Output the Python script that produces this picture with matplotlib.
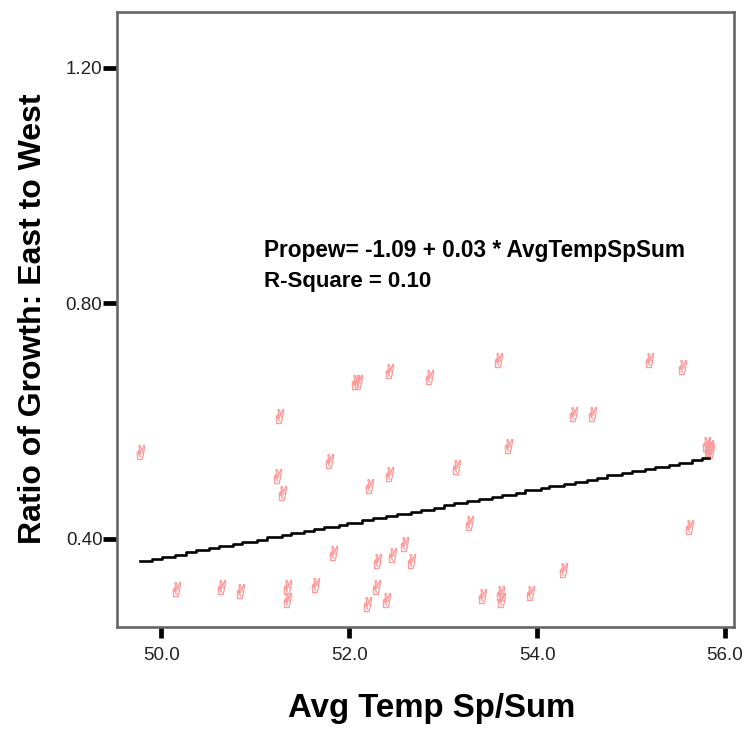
import matplotlib
matplotlib.use('Agg')
import matplotlib.pyplot as plt
from matplotlib.path import Path
from matplotlib.textpath import TextPath
from matplotlib.font_manager import FontProperties

# points
temp_sp_sum = [49.77, 50.16, 50.64, 50.84, 51.34, 51.34, 51.64, 51.25, 51.23, 51.28,
               51.78, 51.83, 52.21, 52.42, 52.42, 52.06, 52.09, 52.85, 52.30, 52.46,
               52.58, 52.66, 52.28, 52.19, 52.39, 53.58, 55.19, 55.54, 54.38, 54.58,
               53.69, 53.14, 55.80, 55.82, 55.83, 55.84, 53.28, 55.62, 54.28, 53.41,
               53.60, 53.62, 53.92]
growth_ratio = [0.548, 0.315, 0.318, 0.312, 0.318, 0.296, 0.322, 0.609, 0.507, 0.478,
                0.532, 0.376, 0.490, 0.510, 0.685, 0.667, 0.667, 0.675, 0.363, 0.373,
                0.392, 0.363, 0.318, 0.290, 0.296, 0.704, 0.704, 0.692, 0.612, 0.612,
                0.558, 0.522, 0.561, 0.553, 0.557, 0.549, 0.427, 0.420, 0.347, 0.303,
                0.308, 0.296, 0.308]

# fit line is drawn as a staircase in the original
fit_x = [49.774, 49.898, 50.004, 50.146, 50.260, 50.366, 50.508, 50.614, 50.767, 50.862,
         51.022, 51.128, 51.281, 51.377, 51.518, 51.625, 51.731, 51.891, 51.979, 52.139,
         52.256, 52.387, 52.511, 52.653, 52.760, 52.901, 53.007, 53.114, 53.256, 53.380,
         53.522, 53.628, 53.770, 53.876, 54.036, 54.124, 54.284, 54.408, 54.532, 54.638,
         54.745, 54.904, 55.011, 55.153, 55.259, 55.401, 55.507, 55.649, 55.755, 55.830]
fit_y = [0.3626, 0.3660, 0.3699, 0.3733, 0.3773, 0.3807, 0.3847, 0.3881, 0.3915, 0.3954,
         0.3988, 0.4028, 0.4062, 0.4101, 0.4135, 0.4169, 0.4203, 0.4243, 0.4277, 0.4317,
         0.4351, 0.4390, 0.4424, 0.4458, 0.4498, 0.4532, 0.4571, 0.4605, 0.4645, 0.4679,
         0.4719, 0.4753, 0.4787, 0.4826, 0.4860, 0.4900, 0.4934, 0.4968, 0.5007, 0.5041,
         0.5081, 0.5115, 0.5155, 0.5189, 0.5228, 0.5262, 0.5296, 0.5336, 0.5370, 0.5370]

x_ticks = [50, 52, 54, 56]
x_labels = ['50.0', '52.0', '54.0', '56.0']
y_ticks = [0.4, 0.8, 1.2]
y_labels = ['0.40', '0.80', '1.20']

plt.rcParams['font.family'] = ['Liberation Sans', 'DejaVu Sans']

W, H = 752, 729
fig = plt.figure(figsize=(W / 100, H / 100), dpi=100)
ax = fig.add_axes([117 / W, 1 - 627 / H, (734 - 117) / W, (627 - 12) / H])
ax.set_xlim(49.529, 56.095)
ax.set_ylim(0.2505, 1.295)

# peace-hand glyph as an outline marker, centred on the point
# CLOSEPOLY vertices sit at 0,0 so leave them out of the bounds
tp = TextPath((0, 0), '\u270c', size=10, prop=FontProperties(family='DejaVu Sans'))
v = tp.vertices.copy()
real = v[tp.codes != Path.CLOSEPOLY]
cx = (real[:, 0].min() + real[:, 0].max()) / 2
cy = (real[:, 1].min() + real[:, 1].max()) / 2
v[:, 0] -= cx
v[:, 1] -= cy
v[:, 0] += 0.18 * v[:, 1]  # fingers lean right in the original
hand = Path(v, tp.codes)

ax.plot(temp_sp_sum, growth_ratio, linestyle='none', marker=hand, markersize=13,
        markerfacecolor='none', markeredgecolor='#ff9a9a', markeredgewidth=0.45)
ax.plot(fit_x, fit_y, drawstyle='steps-post', color='black', linewidth=1.9)

for s in ax.spines.values():
    s.set_color('#666666')
    s.set_linewidth(1.9)

ax.set_xticks(x_ticks)
ax.set_xticklabels(x_labels, fontsize=13.5, color='#222222')
ax.set_yticks(y_ticks)
ax.set_yticklabels(y_labels, fontsize=13.5, color='#222222')
ax.tick_params(axis='x', length=8, width=3.4, color='black', pad=6.5)
ax.tick_params(axis='y', length=10, width=3.4, color='black', pad=0.5)

ax.text(264 / W, 1 - 250 / H, 'Propew= -1.09 + 0.03 * AvgTempSpSum', transform=fig.transFigure,
        fontsize=16.3, fontweight='bold', va='center', ha='left')
ax.text(264 / W, 1 - 281 / H, 'R-Square = 0.10', transform=fig.transFigure,
        fontsize=16, fontweight='bold', va='center', ha='left')

fig.text(432 / W, 1 - 708 / H, 'Avg Temp Sp/Sum', fontsize=23.8, fontweight='bold',
         ha='center', va='center')
fig.text(33 / W, 1 - 319 / H, 'Ratio of Growth: East to West', fontsize=23, fontweight='bold',
         rotation=90, ha='center', va='center')

fig.savefig('out.png', dpi=100)
